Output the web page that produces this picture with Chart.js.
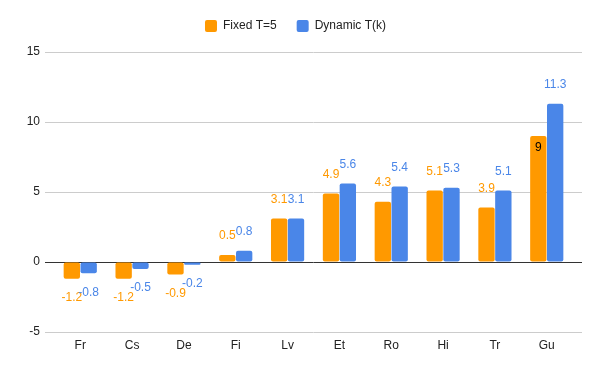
<!DOCTYPE html>
<html>
<head>
<meta charset="utf-8">
<script src="https://cdn.jsdelivr.net/npm/chart.js@4.4.1/dist/chart.umd.min.js"></script>
<style>
  html, body { margin: 0; padding: 0; background: #fff; }
  #wrap { width: 600px; height: 371px; }
</style>
</head>
<body>
<div id="wrap"><canvas id="chart" width="600" height="371"></canvas></div>
<script>
// 데이터
const categories = ['Fr', 'Cs', 'De', 'Fi', 'Lv', 'Et', 'Ro', 'Hi', 'Tr', 'Gu'];
const fixedValues = [-1.2, -1.2, -0.9, 0.5, 3.1, 4.9, 4.3, 5.1, 3.9, 9];
const dynamicValues = [-0.8, -0.5, -0.2, 0.8, 3.1, 5.6, 5.4, 5.3, 5.1, 11.3];
const yTicks = [-5, 0, 5, 10, 15];

const ORANGE = '#ff9900';
const BLUE = '#4a86e8';
const FONT = '"Liberation Sans", Arial, sans-serif';
const LEGEND_EXTRA = 10; // 범례 아래 여백
const X_PAD = 0.68;      // 양 끝 카테고리 바깥 여백 (카테고리 단위)

// 카테고리 인덱스를 x 값으로 사용 (구글 차트처럼 양쪽 여백을 주기 위해 linear 축)
const toPoints = vals => vals.map((v, i) => ({ x: i, y: v }));

// 막대 끝에 값 표시 (구글 차트 스타일)
const valueLabels = {
  id: 'valueLabels',
  beforeLayout(chart) {
    const lg = chart.legend;
    if (lg && !lg._patched) {
      const fit = lg.fit;
      lg.fit = function () {
        fit.call(this);
        this.height += LEGEND_EXTRA;
      };
      lg._patched = true;
    }
  },
  afterDatasetsDraw(chart) {
    const ctx = chart.ctx;
    const yScale = chart.scales.y;
    ctx.save();
    ctx.font = '12px ' + FONT;
    ctx.textAlign = 'center';
    ctx.textBaseline = 'middle';
    chart.data.datasets.forEach((ds, di) => {
      const meta = chart.getDatasetMeta(di);
      const other = chart.data.datasets[1 - di].data;
      meta.data.forEach((bar, i) => {
        const v = ds.data[i].y;
        const ov = other[i].y;
        const up = v >= 0;
        let y = up ? bar.y - 19 : bar.y + 19;
        let color = ds.backgroundColor;
        // 옆 막대가 라벨 위치를 덮으면 막대 안쪽에 표시
        const otherEnd = yScale.getPixelForValue(ov);
        if (up && otherEnd < y && ov > v) {
          y = bar.y + 12;
          color = '#000';
        }
        ctx.fillStyle = color;
        ctx.fillText(String(v), bar.x, y);
      });
    });
    ctx.restore();
  }
};

new Chart(document.getElementById('chart'), {
  type: 'bar',
  data: {
    datasets: [
      {
        label: 'Fixed T=5',
        data: toPoints(fixedValues),
        backgroundColor: ORANGE,
        borderRadius: 2,
        borderSkipped: false,
        barPercentage: 0.97,
        categoryPercentage: 0.65,
      },
      {
        label: 'Dynamic T(k)',
        data: toPoints(dynamicValues),
        backgroundColor: BLUE,
        borderRadius: 2,
        borderSkipped: false,
        barPercentage: 0.97,
        categoryPercentage: 0.65,
      },
    ],
  },
  options: {
    responsive: false,
    animation: false,
    layout: { padding: { left: 9, right: 18, top: 0, bottom: 0 } },
    plugins: {
      tooltip: { enabled: false },
      legend: {
        position: 'top',
        labels: {
          boxWidth: 12,
          boxHeight: 12,
          padding: 20,
          color: '#222',
          font: { size: 12, family: FONT },
          useBorderRadius: true,
          borderRadius: 2,
        },
      },
    },
    scales: {
      x: {
        type: 'linear',
        offset: false,
        min: -X_PAD,
        max: categories.length - 1 + X_PAD,
        afterBuildTicks(scale) { scale.ticks = categories.map((c, i) => ({ value: i })); },
        grid: { display: false, drawTicks: false },
        border: { display: false },
        ticks: {
          color: '#222',
          font: { size: 12, family: FONT },
          padding: 6,
          autoSkip: false,
          maxRotation: 0,
          callback: v => categories[v],
        },
        afterFit(scale) { scale.height = 39; },
      },
      y: {
        min: -5,
        max: 15,
        afterBuildTicks(scale) { scale.ticks = yTicks.map(v => ({ value: v })); },
        grid: {
          drawTicks: false,
          color: c => (c.tick && c.tick.value === 0 ? '#333333' : '#cccccc'),
          lineWidth: 1,
        },
        border: { display: false },
        ticks: { color: '#222', font: { size: 12, family: FONT }, padding: 5 },
        afterFit(scale) { scale.width = 36; },
      },
    },
  },
  plugins: [valueLabels],
});
</script>
</body>
</html>
